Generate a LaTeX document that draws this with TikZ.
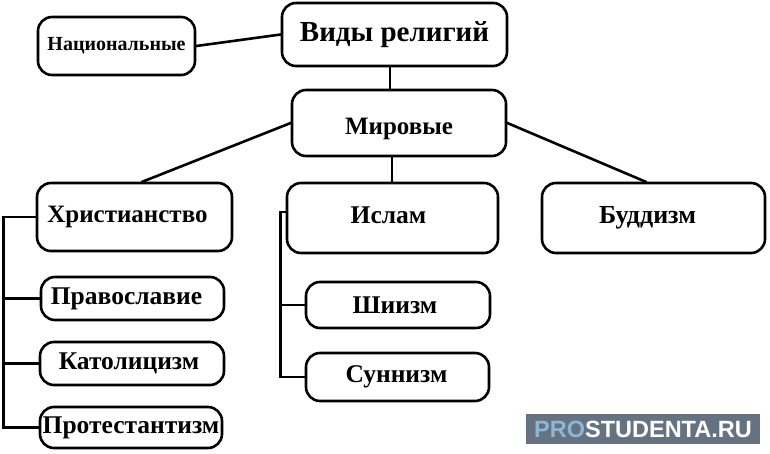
\documentclass[tikz,border=0pt]{standalone}
\usepackage{fontspec}
\setmainfont{Liberation Serif}
\newfontfamily\wmfont{Liberation Sans}
\definecolor{wmbg}{RGB}{101,114,129}
\definecolor{wmblue}{RGB}{142,182,212}
\begin{document}
\begin{tikzpicture}[x=1pt,y=-1pt,
  box/.style={draw=black,line width=2.6pt,rounded corners=14pt,inner sep=0pt,
    font=\bfseries,fill=white},
  conn/.style={line width=2.6pt,line cap=rect},
  fs/.style={font=\bfseries\fontsize{#1}{#1}\selectfont}]
\useasboundingbox (0,0) rectangle (770,454);
\fill[white] (0,0) rectangle (770,454);
% nodes
\node[box,minimum width=157pt,minimum height=58pt,fs=20] (nat) at (116.5,46) {Национальные};
\node[box,minimum width=225pt,minimum height=63pt,fs=29] (vidy) at (394.5,34.5) {Виды религий};
\node[box,minimum width=214pt,minimum height=66pt,fs=25,text height=24pt,text depth=0pt] (mir) at (399,123) {Мировые};
\node[box,minimum width=195pt,minimum height=68pt,fs=25] (hrist) at (134.5,217) {\hspace*{-14pt}Христианство};
\node[box,minimum width=183pt,minimum height=43pt,fs=25.5] (prav) at (132.5,298.5) {\hspace*{-12pt}Православие};
\node[box,minimum width=184pt,minimum height=43pt,fs=25.5] (kat) at (132,363.5) {\hspace*{-6pt}Католицизм};
\node[box,minimum width=182pt,minimum height=41pt,fs=25.5] (prot) at (131,427.5) {Протестантизм};
\node[box,minimum width=211pt,minimum height=70pt,fs=25.5,text height=17pt,text depth=6pt] (islam) at (392.5,218) {\hspace*{-8pt}Ислам};
\node[box,minimum width=184pt,minimum height=46pt,fs=25.5] (shi) at (398,305) {\hspace*{-6pt}Шиизм};
\node[box,minimum width=183pt,minimum height=48pt,fs=25.5] (sun) at (397.5,377) {\hspace*{-2pt}Суннизм};
\node[box,minimum width=223pt,minimum height=70pt,fs=26] (budd) at (653.5,218) {\hspace*{-12pt}Буддизм};
% connectors
\draw[conn] (nat.east) -- (vidy.west);
\draw[conn] (vidy.south -| 390,0) -- (mir.north -| 390,0);
\draw[conn] (mir.west) -- ([xshift=8pt]hrist.north);
\draw[conn] (mir.east) -- ([xshift=-8pt]budd.north);
\draw[conn] (islam.north -| 392,0) -- (mir.south -| 392,0);
\draw[conn] (hrist.west) -- ([xshift=-32pt]hrist.west) coordinate (hl) |- (prot.west);
\draw[conn] (prav.west) -- (prav.west -| hl);
\draw[conn] (kat.west) -- (kat.west -| hl);
\draw[conn] ([yshift=6pt]islam.west) -- ([xshift=-5pt,yshift=6pt]islam.west) coordinate (il) |- (sun.west);
\draw[conn] (shi.west) -- (shi.west -| il);
% watermark
\node[fill=wmbg,minimum width=234pt,minimum height=30pt,inner sep=0pt,
  font=\wmfont\bfseries\fontsize{23.5}{26}\selectfont] (wm) at (643,429)
  {\textcolor{wmblue}{PRO}\textcolor{white}{STUDENTA.RU}};
\end{tikzpicture}
\end{document}
